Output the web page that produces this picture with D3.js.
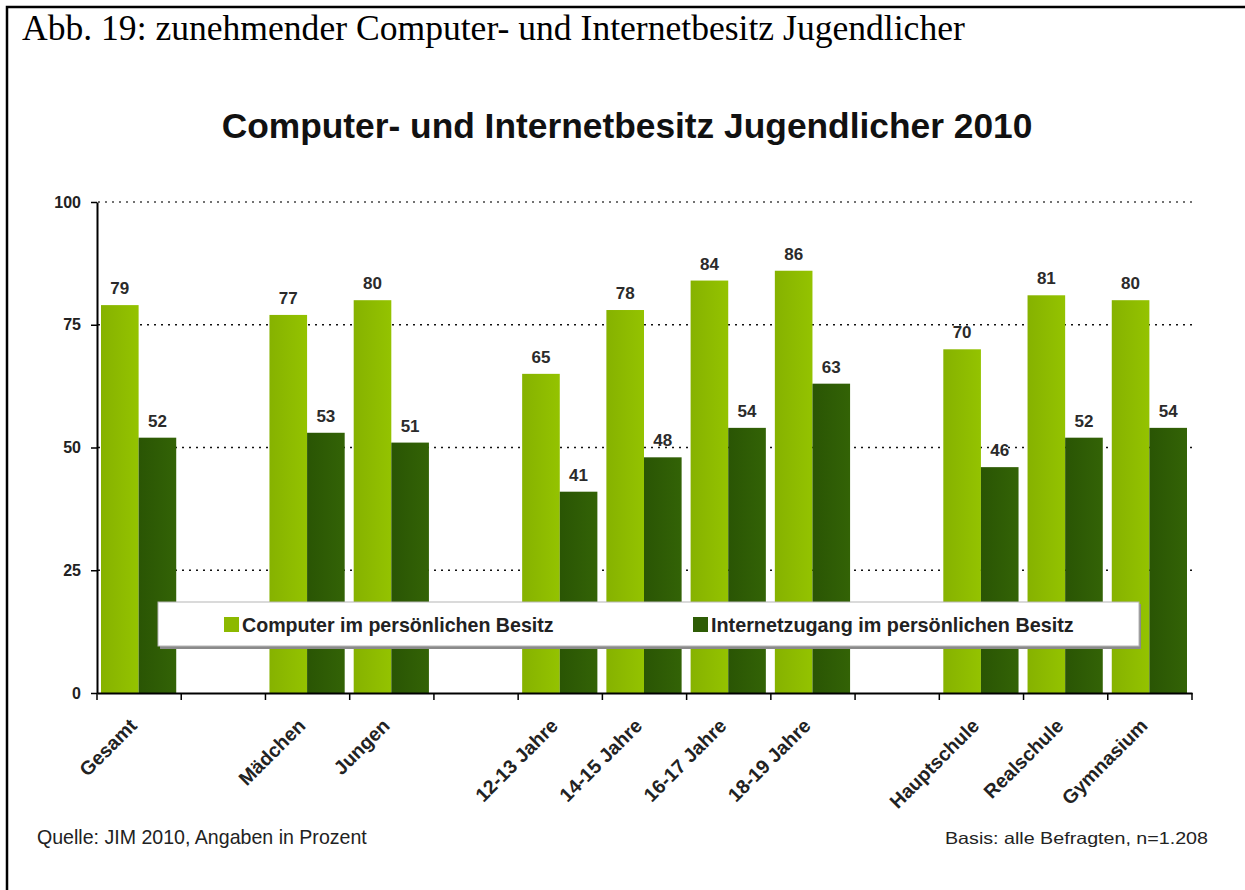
<!DOCTYPE html>
<html>
<head>
<meta charset="utf-8">
<script src="https://cdn.jsdelivr.net/npm/d3@7"></script>
<style>
    body { margin: 0; background: #fff; }
    svg { display: block; font-family: Arial, "Liberation Sans", sans-serif; }
</style>
</head>
<body>
<svg id="chart" width="1245" height="890"></svg>
<script>
// slots of the chart, empty strings are the gaps between groups
var categories = ["Gesamt", "", "Mädchen", "Jungen", "", "12-13 Jahre", "14-15 Jahre",
                  "16-17 Jahre", "18-19 Jahre", "", "Hauptschule", "Realschule", "Gymnasium"];
var computer = [79, null, 77, 80, null, 65, 78, 84, 86, null, 70, 81, 80];
var internet = [52, null, 53, 51, null, 41, 48, 54, 63, null, 46, 52, 54];
var seriesNames = ["Computer im persönlichen Besitz", "Internetzugang im persönlichen Besitz"];
var yTicks = [0, 25, 50, 75, 100];

var svg = d3.select('#chart');

var x0 = d3.scaleBand()
    .domain(d3.range(categories.length))
    .range([97, 1192])
    .padding(0);
var x1 = d3.scaleBand()
    .domain(['computer', 'internet'])
    .range([4, x0.step() - 5]);
var y = d3.scaleLinear().domain([0, 100]).range([693, 202]);
var color = { computer: '#8cb900', internet: '#2e5c05' };

// fit a text to a given width by changing its font size
function fitWidth(sel, w)
{
    var fs = +sel.attr('font-size');
    var len = sel.node().getComputedTextLength();
    if (len > 0) sel.attr('font-size', (fs * w / len).toFixed(2));
}

// frame of the page
svg.append('path')
    .attr('d', 'M7,890V7H1245')
    .attr('fill', 'none')
    .attr('stroke', '#000')
    .attr('stroke-width', 2.5);

var header = svg.append('text')
    .attr('x', 22).attr('y', 40)
    .attr('font-family', '"Liberation Serif", "DejaVu Serif", serif')
    .attr('font-size', 28)
    .text('Abb. 19: zunehmender Computer- und Internetbesitz Jugendlicher');
fitWidth(header, 943);

var title = svg.append('text')
    .attr('x', 627).attr('y', 138)
    .attr('text-anchor', 'middle')
    .attr('font-size', 30)
    .attr('font-weight', 'bold')
    .attr('fill', '#111')
    .text('Computer- und Internetbesitz Jugendlicher 2010');
fitWidth(title, 811);

// gradients for the bars
var defs = svg.append('defs');
function grad(id, a, b)
{
    var g = defs.append('linearGradient').attr('id', id)
        .attr('x1', '0%').attr('x2', '100%').attr('y1', '0%').attr('y2', '0%');
    g.append('stop').attr('offset', '0%').attr('stop-color', a);
    g.append('stop').attr('offset', '100%').attr('stop-color', b);
}
grad('gLight', '#86b200', '#94c300');
grad('gDark', '#2a5504', '#336306');

// dotted gridlines
svg.append('g')
    .selectAll('line')
    .data(yTicks.filter(function(d) { return d > 0; }))
    .join('line')
    .attr('x1', 98).attr('x2', 1195)
    .attr('y1', function(d) { return y(d); })
    .attr('y2', function(d) { return y(d); })
    .attr('stroke', function(d) { return d == 100 ? '#444' : '#111'; })
    .attr('stroke-width', 1.6)
    .attr('stroke-dasharray', '2,5');

// bars
var rows = categories.map(function(c, i)
{
    return { i: i, computer: computer[i], internet: internet[i] };
}).filter(function(d) { return d.computer != null; });

var groups = svg.append('g')
    .selectAll('g')
    .data(rows)
    .join('g')
    .attr('transform', function(d) { return 'translate(' + x0(d.i) + ',0)'; });

function pairs(d)
{
    return [{ key: 'computer', v: d.computer }, { key: 'internet', v: d.internet }];
}

groups.selectAll('rect')
    .data(pairs)
    .join('rect')
    .attr('x', function(d) { return x1(d.key); })
    .attr('width', x1.bandwidth())
    .attr('y', function(d) { return y(d.v); })
    .attr('height', function(d) { return y(0) - y(d.v); })
    .attr('fill', function(d) { return d.key == 'computer' ? 'url(#gLight)' : 'url(#gDark)'; });

groups.selectAll('text.val')
    .data(pairs)
    .join('text')
    .attr('class', 'val')
    .attr('x', function(d) { return x1(d.key) + x1.bandwidth() / 2; })
    .attr('y', function(d) { return y(d.v) - 11; })
    .attr('text-anchor', 'middle')
    .attr('font-size', 17)
    .attr('font-weight', 'bold')
    .attr('fill', '#2b2b2b')
    .text(function(d) { return d.v; });

// y axis
var yAxis = svg.append('g')
    .attr('transform', 'translate(97,0)')
    .call(d3.axisLeft(y).tickValues(yTicks).tickSize(6).tickSizeOuter(0).tickPadding(10));
yAxis.select('.domain').attr('stroke', '#000').attr('stroke-width', 2);
yAxis.selectAll('.tick line').attr('stroke', '#000').attr('stroke-width', 1.5);
yAxis.selectAll('.tick text')
    .attr('font-size', 16)
    .attr('font-weight', 'bold')
    .attr('fill', '#222')
    .attr('font-family', 'Arial, "Liberation Sans", sans-serif');

// x axis with labels centred on the slots
var xAxis = svg.append('g')
    .attr('transform', 'translate(0,' + y(0) + ')')
    .call(d3.axisBottom(x0).tickSize(0).tickSizeOuter(0).tickFormat(function(i) { return categories[i]; }));
xAxis.select('.domain').attr('stroke', '#000').attr('stroke-width', 2);
xAxis.selectAll('.tick text')
    .attr('font-size', 19.5)
    .attr('font-weight', 'bold')
    .attr('fill', '#222')
    .attr('font-family', 'Arial, "Liberation Sans", sans-serif')
    .attr('text-anchor', 'end')
    .attr('dy', null)
    .attr('y', 0)
    .attr('transform', 'translate(-1,34) rotate(-45)');

// tick marks between the slots
var bounds = d3.range(categories.length).map(function(i) { return x0(i); });
bounds.push(x0(categories.length - 1) + x0.step());
svg.append('g')
    .selectAll('line')
    .data(bounds)
    .join('line')
    .attr('x1', function(d) { return d; })
    .attr('x2', function(d) { return d; })
    .attr('y1', y(0))
    .attr('y2', y(0) + 7)
    .attr('stroke', '#000')
    .attr('stroke-width', 1.5);

// legend
var legend = svg.append('g');
legend.append('rect')
    .attr('x', 160).attr('y', 604)
    .attr('width', 981).attr('height', 45)
    .attr('fill', '#8a8a8a');
legend.append('rect')
    .attr('x', 158).attr('y', 602)
    .attr('width', 981).attr('height', 44)
    .attr('fill', '#fff')
    .attr('stroke', '#b5b5b5')
    .attr('stroke-width', 1);

var legendX = [224, 693];
var legendW = [312, 363];
var legendItems = legend.selectAll('g')
    .data(['computer', 'internet'])
    .join('g')
    .attr('transform', function(d, i) { return 'translate(' + legendX[i] + ',617)'; });
legendItems.append('rect')
    .attr('width', 15).attr('height', 15)
    .attr('fill', function(d) { return color[d]; });
legendItems.append('text')
    .attr('x', 18).attr('y', 14.5)
    .attr('font-size', 17)
    .attr('font-weight', 'bold')
    .attr('fill', '#222')
    .text(function(d, i) { return seriesNames[i]; })
    .each(function(d, i) { fitWidth(d3.select(this), legendW[i]); });

// footnotes
var src = svg.append('text')
    .attr('x', 37).attr('y', 844)
    .attr('font-size', 16.5)
    .attr('fill', '#222')
    .text('Quelle: JIM 2010, Angaben in Prozent');
fitWidth(src, 330);

svg.append('text')
    .attr('x', 1208).attr('y', 844)
    .attr('text-anchor', 'end')
    .attr('font-size', 16.5)
    .attr('fill', '#222')
    .attr('textLength', 263)
    .attr('lengthAdjust', 'spacingAndGlyphs')
    .text('Basis: alle Befragten, n=1.208');
</script>
</body>
</html>
